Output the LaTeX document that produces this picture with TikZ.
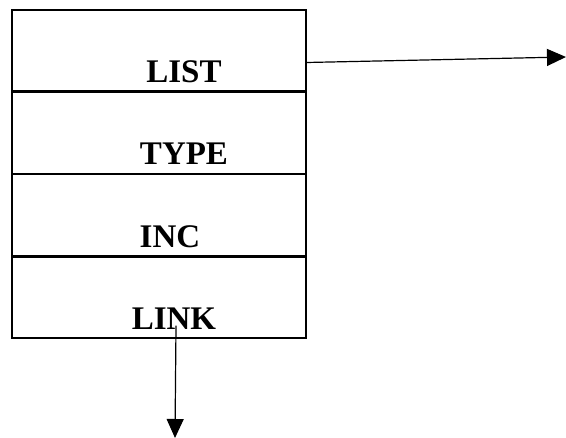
\documentclass[tikz,border=0pt]{standalone}
\usepackage{fontspec}
\setmainfont{Liberation Serif}
\usepackage{tikz}
\usetikzlibrary{arrows.meta,positioning}

\begin{document}
\begin{tikzpicture}[
  x=1pt, y=-1pt,
  cell/.style={rectangle, draw=black, line width=1.3pt, minimum width=294pt,
               minimum height=81pt, inner sep=0pt},
  lbl/.style={anchor=base, inner sep=0pt, font=\fontsize{33}{38}\selectfont\bfseries},
  ar/.style={-{Triangle[length=19pt,width=17pt]}, line width=1.2pt, draw=black}
]
\useasboundingbox (0,0) rectangle (566,438);

\node[cell] (list) at (159,50.5) {};
\node[cell, below=0pt of list] (type) {};
\node[cell, below=0pt of type] (inc) {};
\node[cell, below=0pt of inc] (link) {};

\node[lbl] (listtxt) at ([xshift=25pt, yshift=9pt]list.south) {LIST};
\node[lbl] (typetxt) at ([xshift=25pt, yshift=9pt]type.south) {TYPE};
\node[lbl] (inctxt) at ([xshift=11pt, yshift=9pt]inc.south) {INC};
\node[lbl] (linktxt) at ([xshift=15pt, yshift=9pt]link.south) {LINK};

\coordinate (listend) at (566,57);
\coordinate (linkend) at (175,438);

\draw[ar] ([yshift=-12pt]list.east) -- (listend);
\draw[ar] ([xshift=17pt, yshift=13pt]link.south) -- (linkend);
\end{tikzpicture}
\end{document}
